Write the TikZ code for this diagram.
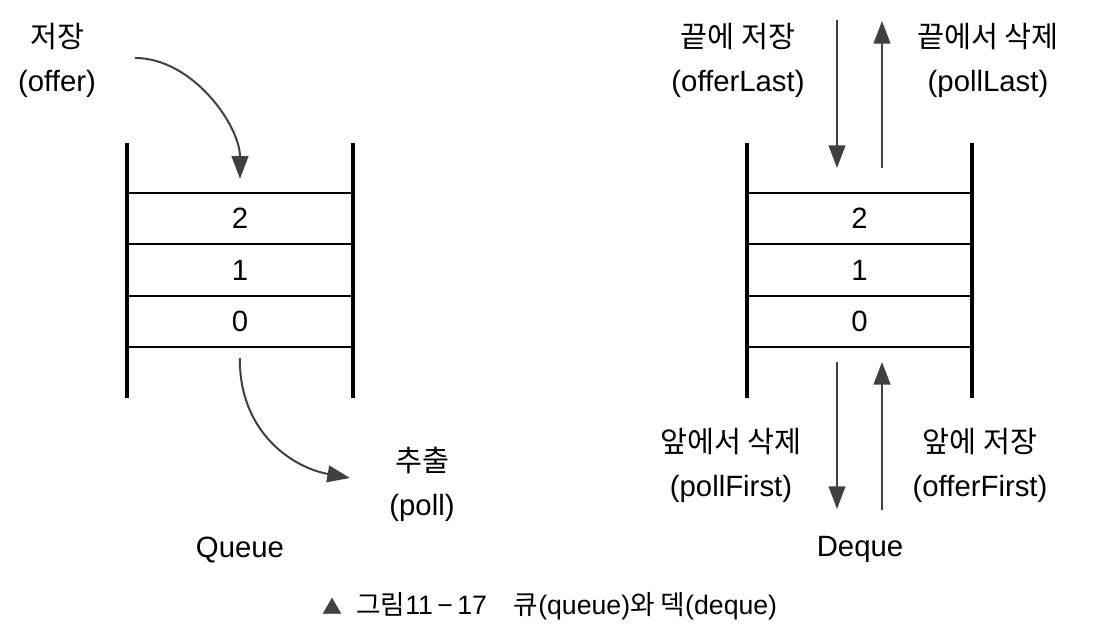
\documentclass[tikz,border=0pt]{standalone}
\usepackage{fontspec}
\setmainfont{Liberation Sans}
\newfontfamily\kr{Noto Sans CJK KR}
\usetikzlibrary{arrows.meta}

\tikzset{
    wall/.style={line width=2.3pt},
    cell/.style={draw, line width=1.5pt, minimum width=169.5pt, minimum height=38.5pt, inner sep=0pt, font=\fontsize{22}{26}\selectfont},
    flow/.style={->, line width=1.5pt, draw=black!75},
    lbl/.style={align=center, font=\fontsize{22}{33}\selectfont},
    >={Triangle[length=17pt, width=12.5pt]}
}

\begin{document}
\begin{tikzpicture}[x=0.75pt, y=-0.75pt]
    \useasboundingbox (0,0) rectangle (1120,630);
    % queue
    \node[cell] (q2) at (240,218.5) {2};
    \node[cell] (q1) at (240,270) {1};
    \node[cell] (q0) at (240,321.5) {0};
    \draw[wall] (127,143) -- (127,398);
    \draw[wall] (353,143) -- (353,398);
    \node[lbl] (offer) at (57,60) {{\kr 저장}\\(offer)};
    \node[lbl] (poll) at (422,484) {{\kr 추출}\\(poll)};
    \coordinate (qin) at (135,58);
    \coordinate (qout) at (350,478);
    \draw[flow, shorten >=9.75pt] (qin) .. controls (193,58) and (240,126) .. (q2.north);
    \draw[flow, shorten <=7.5pt] (q0.south) .. controls (239,430) and (290,467) .. (qout);
    \node[lbl] (queue) at (240,550) {Queue};
    % deque
    \node[cell] (d2) at (859.5,218.5) {2};
    \node[cell] (d1) at (859.5,270) {1};
    \node[cell] (d0) at (859.5,321.5) {0};
    \draw[wall] (747,143) -- (747,398);
    \draw[wall] (972,143) -- (972,398);
    \node[lbl] (offerlast) at (738,60) {{\kr 끝에 저장}\\(offerLast)};
    \node[lbl] (polllast) at (988,60) {{\kr 끝에서 삭제}\\(pollLast)};
    \node[lbl] (pollfirst) at (731,465) {{\kr 앞에서 삭제}\\(pollFirst)};
    \node[lbl] (offerfirst) at (980,465) {{\kr 앞에 저장}\\(offerFirst)};
    \coordinate (lastin) at (837,20);
    \coordinate (lastin2) at (837,168);
    \coordinate (lastout) at (882,168);
    \coordinate (lastout2) at (882,21);
    \coordinate (firstout) at (837,362);
    \coordinate (firstout2) at (837,509);
    \coordinate (firstin) at (882,510);
    \coordinate (firstin2) at (882,362);
    \draw[flow] (lastin) -- (lastin2);
    \draw[flow] (lastout) -- (lastout2);
    \draw[flow] (firstout) -- (firstout2);
    \draw[flow] (firstin) -- (firstin2);
    \node[lbl] (deque) at (860,549) {Deque};
    % caption
    \node[font=\fontsize{20}{22}\selectfont] (caption) at (550,606) {{\kr\fontsize{15}{16}\selectfont\color{black!75}▲}\enspace{\kr 그림}11{\,}−{\,}17\quad{\kr 큐}(queue){\kr 와 덱}(deque)};
\end{tikzpicture}
\end{document}
